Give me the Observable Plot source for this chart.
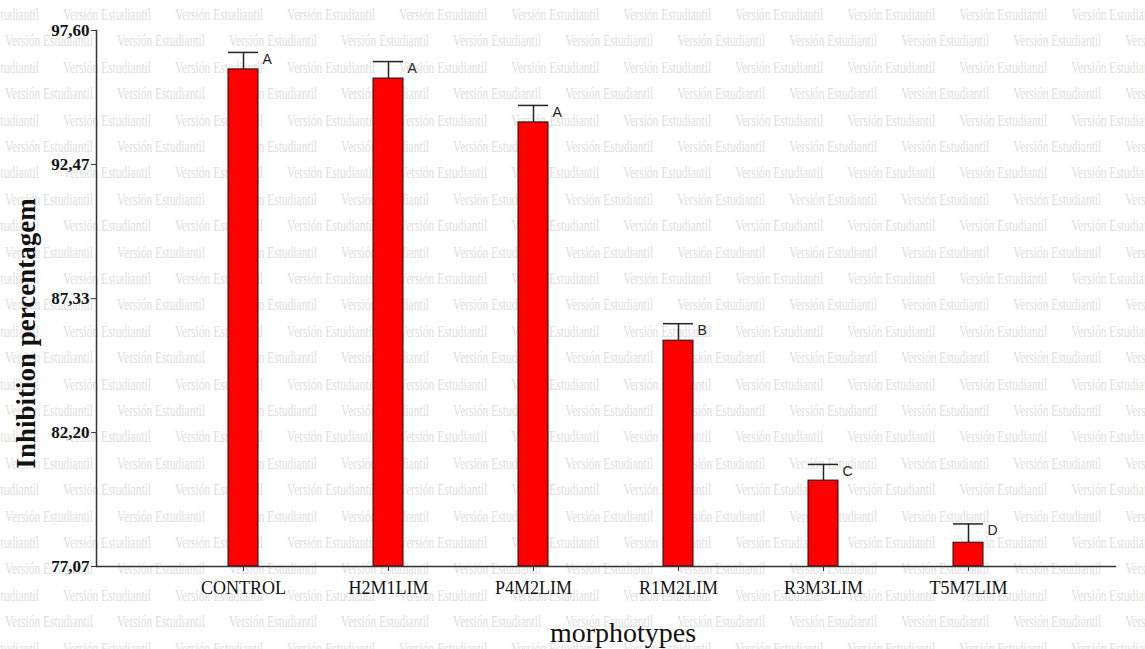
<!DOCTYPE html>
<html>
<head>
<meta charset="utf-8">
<script src="https://cdn.jsdelivr.net/npm/d3@7"></script>
<script src="https://cdn.jsdelivr.net/npm/@observablehq/plot@0.6"></script>
<style>
  html, body { margin: 0; padding: 0; background: white; }
  #wrap { position: relative; width: 1145px; height: 649px; overflow: hidden; }
  #wm { position: absolute; left: 0; top: 0; width: 1145px; height: 649px; overflow: hidden; z-index: 0; }
  .wmrow { position: absolute; white-space: nowrap; font-family: "Liberation Serif", "Times New Roman", serif; font-size: 16px; color: #dedede; line-height: 18px; transform-origin: left center; transform: scaleX(0.72); }
  .wmrow span { display: inline-block; width: 155.6px; }
  #chart { position: absolute; left: 0; top: 0; z-index: 1; }
  #chart svg text { font-family: "Liberation Serif", "Times New Roman", serif; }
  #chart svg .letters text { font-family: "Liberation Sans", Arial, sans-serif; }
</style>
</head>
<body>
<div id="wrap"><div id="wm"></div><div id="chart"></div></div>
<script>
const categories = ["CONTROL", "H2M1LIM", "P4M2LIM", "R1M2LIM", "R3M3LIM", "T5M7LIM"];
const values = [96.11, 95.76, 94.08, 85.72, 80.36, 77.98];
const errors = [0.65, 0.65, 0.65, 0.65, 0.62, 0.72];
const groups = ["A", "A", "A", "B", "C", "D"];
const yTicks = [77.07, 82.20, 87.33, 92.47, 97.60];
const watermarkText = "Versión Estudiantil";

const data = categories.map((c, i) => ({
  cat: c, value: values[i], top: values[i] + errors[i], group: groups[i]
}));

// watermark rows
const wm = document.getElementById("wm");
for (let r = 0; r < 26; r++) {
  const row = document.createElement("div");
  row.className = "wmrow";
  row.style.top = (15 + r * 26.4 - 9) + "px";
  row.style.left = (r % 2 === 0 ? -49 : 5) + "px";
  for (let k = 0; k < 12; k++) {
    const s = document.createElement("span");
    s.textContent = watermarkText;
    row.appendChild(s);
  }
  wm.appendChild(row);
}

const fmt = d => d.toFixed(2).replace(".", ",");
const base = yTicks[0];

const chart = Plot.plot({
  width: 1145,
  height: 649,
  marginLeft: 96,
  marginRight: 30,
  marginTop: 30,
  marginBottom: 83,
  style: { background: "transparent", overflow: "visible" },
  x: { domain: categories, paddingInner: 0.793, paddingOuter: 0.905, label: null },
  y: { domain: [yTicks[0], yTicks[yTicks.length - 1]], label: null },
  marks: [
    Plot.axisY({
      ticks: yTicks, tickFormat: fmt, tickSize: 5, tickPadding: 2,
      fontSize: 17, fontWeight: "bold", fill: "#111", stroke: "#333"
    }),
    Plot.axisX({
      tickSize: 5, tickPadding: 10, fontSize: 18, fill: "#111", stroke: "#333"
    }),
    Plot.barY(data, { x: "cat", y1: base, y2: "value", fill: "#ff0000", stroke: "#111", strokeWidth: 1 }),
    Plot.ruleX(data, { x: "cat", y1: "value", y2: "top", stroke: "#222", strokeWidth: 1.5 }),
    Plot.tickY(data, { x: "cat", y: "top", stroke: "#222", strokeWidth: 1.5 }),
    Plot.text(data, { x: "cat", y: "top", text: "group", dx: 19, dy: 7, textAnchor: "start",
      fontSize: 14, fill: "#222", className: "letters" }),
    Plot.frame({ anchor: "left", stroke: "#333", strokeWidth: 1.5 }),
    Plot.frame({ anchor: "bottom", stroke: "#333", strokeWidth: 1.5 }),
    Plot.text(["Inhibition percentagem"], { frameAnchor: "left", textAnchor: "middle", dx: -70, dy: 35, rotate: -90,
      fontSize: 27, fontWeight: "bold", fill: "#111", lineAnchor: "middle" }),
    Plot.text(["morphotypes"], { frameAnchor: "bottom", textAnchor: "middle", dx: 17, dy: 67,
      fontSize: 28, fill: "#111", lineAnchor: "middle" })
  ]
});
document.getElementById("chart").appendChild(chart);
</script>
</body>
</html>
